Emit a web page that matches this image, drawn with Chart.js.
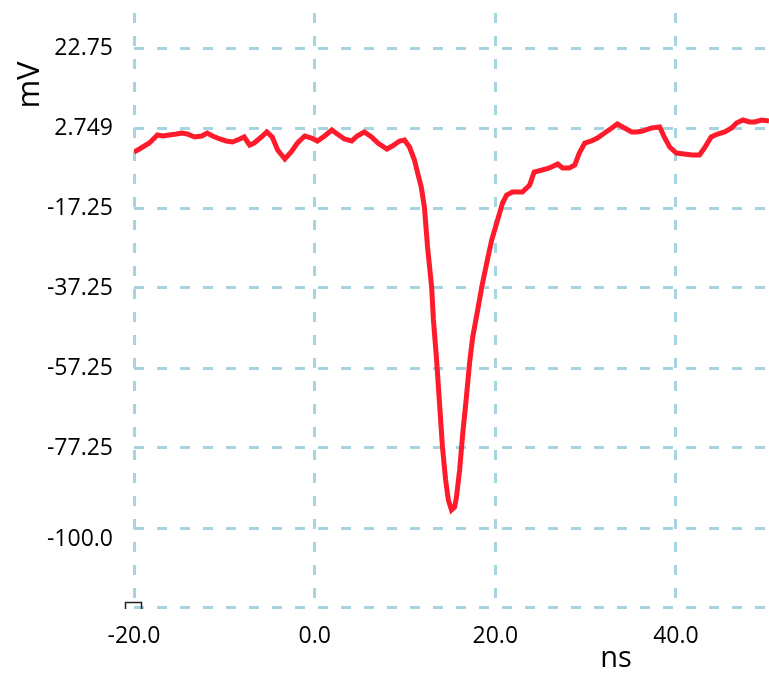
<!DOCTYPE html>
<html>
<head>
<meta charset="utf-8">
<script src="https://cdn.jsdelivr.net/npm/chart.js@4/dist/chart.umd.min.js"></script>
<style>
  html, body { margin: 0; padding: 0; background: #fff; }
  #wrap { width: 769px; height: 683px; position: relative; }
</style>
</head>
<body>
<div id="wrap"><canvas id="scope"></canvas></div>
<script>
// time axis (ns) and trace (mV)
const timeNs = [
  -20.0, -19.4, -18.3, -17.4, -16.8, -16.1, -15.3, -14.7, -14.1, -13.3,
  -12.5, -11.9, -11.3, -10.5, -9.8, -9.1, -8.3, -7.8, -7.2, -6.7,
  -5.9, -5.3, -4.7, -4.1, -3.3, -2.6, -1.9, -1.1, -0.35, 0.3,
  1.1, 1.9, 2.5, 3.3, 4.1, 4.7, 5.5, 6.3, 7.0, 8.0,
  8.6, 9.4, 9.95, 10.5, 11.05, 11.4, 11.8, 12.15, 12.5, 12.95,
  13.15, 13.5, 13.8, 14.15, 14.5, 14.8, 15.15, 15.5, 15.7, 16.05,
  16.4, 16.8, 17.15, 17.5, 18.05, 18.5, 19.05, 19.6, 20.25, 20.8,
  21.25, 21.9, 23.0, 23.8, 24.3, 25.2, 26.0, 26.9, 27.45, 28.2,
  28.8, 29.3, 29.9, 30.65, 31.3, 32.1, 32.9, 33.5, 34.3, 35.1,
  35.7, 36.3, 37.3, 38.2, 38.7, 39.3, 40.05, 40.9, 41.8, 42.6,
  43.15, 43.9, 44.6, 45.4, 46.15, 46.7, 47.4, 48.15, 48.7, 49.5, 50.3
];
const voltageMv = [
  -3.25, -2.5, -1.0, 1.0, 0.75, 1.0, 1.25, 1.5, 1.25, 0.5,
  0.75, 1.5, 0.75, 0.0, -0.5, -0.75, 0.0, 0.5, -1.5, -1.0,
  0.5, 1.75, 0.5, -2.75, -5.0, -3.25, -1.0, 0.75, 0.25, -0.5,
  0.75, 2.25, 1.25, 0.0, -0.5, 0.75, 1.75, 0.5, -1.0, -2.5,
  -1.75, -0.5, -0.25, -2.0, -5.25, -8.5, -12.0, -17.0, -27.0, -37.0,
  -45.25, -55.25, -65.25, -77.0, -85.25, -90.25, -92.75, -92.0, -89.5, -82.75,
  -73.5, -64.5, -56.0, -49.5, -42.75, -37.0, -31.0, -25.25, -20.25, -16.0,
  -14.0, -13.25, -13.25, -11.5, -8.25, -7.75, -7.25, -6.25, -7.25, -7.25,
  -6.5, -3.5, -1.0, -0.5, 0.25, 1.5, 2.75, 3.75, 2.75, 1.75,
  1.75, 2.0, 2.75, 3.0, 0.5, -2.0, -3.5, -3.75, -4.0, -4.0,
  -2.25, 0.5, 1.25, 1.75, 2.75, 4.0, 4.75, 4.25, 4.25, 4.75, 4.5
];

const xTicks = [-20, 0, 20, 40];
const xTickLabels = ["-20.0", "0.0", "20.0", "40.0"];
// -97.25 and -117 carry only a grid line, -100 only a label
const yTicks = [-117, -100, -97.25, -77.25, -57.25, -37.25, -17.25, 2.749, 22.75];
const yTickLabels = ["", "-100.0", "", "-77.25", "-57.25", "-37.25", "-17.25", "2.749", "22.75"];

const gridBlue = "#a6d4e0";
const traceRed = "#ff1b2b";
const labelFont = { family: "'Open Sans', sans-serif", size: 23 };

const axisTitles = {
  id: "axisTitles",
  afterDraw(chart) {
    const ctx = chart.ctx;
    ctx.save();
    ctx.fillStyle = "#000";
    ctx.textAlign = "center";
    ctx.textBaseline = "alphabetic";
    ctx.font = "29px 'Open Sans', sans-serif";
    ctx.fillText("ns", 616, 667);
    ctx.font = "31px 'Open Sans', sans-serif";
    ctx.translate(39, 85);
    ctx.rotate(-Math.PI / 2);
    ctx.fillText("mV", 0, 0);
    ctx.restore();
    // small marker at the lower left corner
    ctx.save();
    ctx.strokeStyle = "#222";
    ctx.lineWidth = 1.5;
    ctx.beginPath();
    ctx.moveTo(125.5, 609);
    ctx.lineTo(125.5, 602.5);
    ctx.lineTo(141.5, 602.5);
    ctx.lineTo(141.5, 609);
    ctx.stroke();
    ctx.restore();
  }
};

new Chart(document.getElementById("scope"), {
  type: "line",
  data: {
    datasets: [{
      data: timeNs.map((t, i) => ({ x: t, y: voltageMv[i] })),
      borderColor: traceRed,
      borderWidth: 5,
      pointRadius: 0,
      tension: 0,
      fill: false
    }]
  },
  options: {
    responsive: true,
    maintainAspectRatio: false,
    animation: false,
    layout: { padding: { top: 13, left: 0, right: 0, bottom: 0 } },
    plugins: { legend: { display: false }, tooltip: { enabled: false } },
    scales: {
      x: {
        type: "linear",
        min: -20,
        max: 50.3,
        afterBuildTicks: s => { s.ticks = xTicks.map(v => ({ value: v })); },
        afterFit: s => { s.height = 76; s.paddingLeft = 0; s.paddingRight = 0; },
        ticks: {
          autoSkip: false,
          maxRotation: 0,
          padding: 16,
          color: "#000",
          font: labelFont,
          callback: v => xTickLabels[xTicks.indexOf(v)]
        },
        grid: { color: gridBlue, lineWidth: 3, drawTicks: false },
        border: { display: false, dash: [10, 13] }
      },
      y: {
        min: -117,
        max: 31.5,
        afterBuildTicks: s => { s.ticks = yTicks.map(v => ({ value: v })); },
        afterFit: s => { s.width = 134; s.paddingTop = 0; s.paddingBottom = 0; },
        ticks: {
          autoSkip: false,
          padding: 21,
          color: "#000",
          font: labelFont,
          callback: v => yTickLabels[yTicks.indexOf(v)]
        },
        grid: {
          color: c => (c.tick && c.tick.value === -100 ? "rgba(0,0,0,0)" : gridBlue),
          lineWidth: 3,
          drawTicks: false
        },
        border: { display: false, dash: [10, 13] }
      }
    }
  },
  plugins: [axisTitles]
});
</script>
</body>
</html>
